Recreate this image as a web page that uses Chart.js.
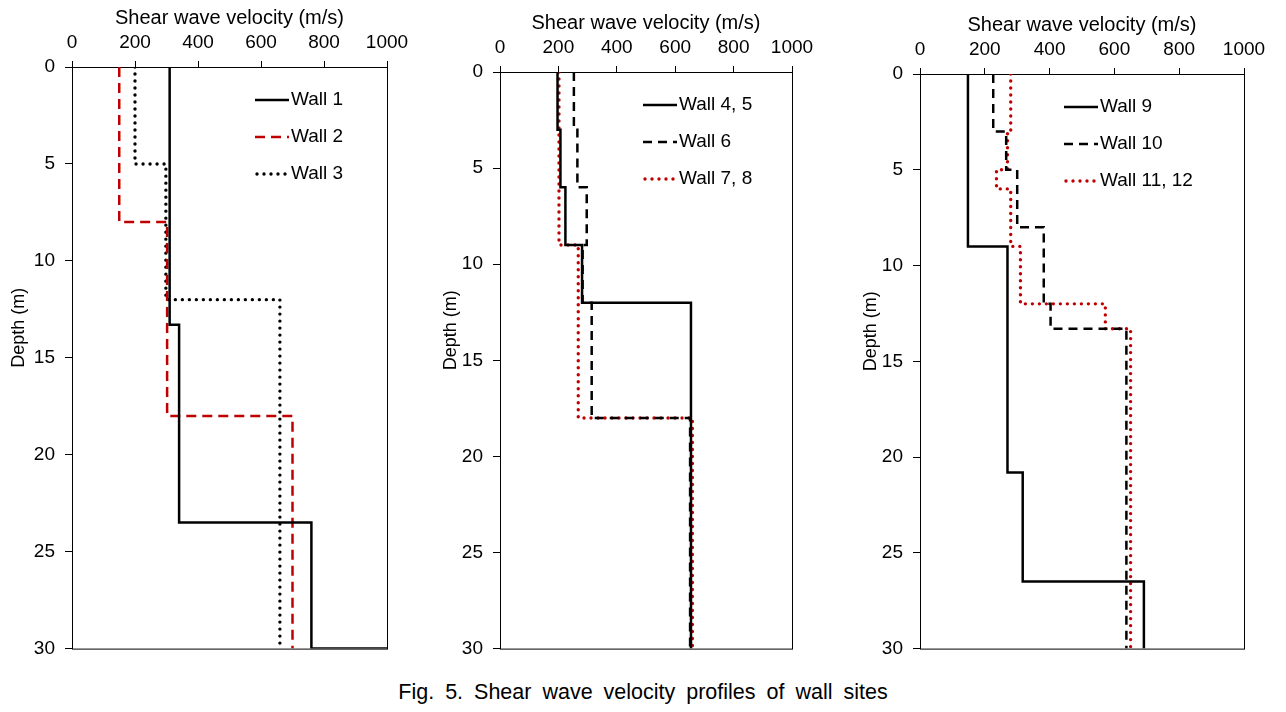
<!DOCTYPE html>
<html>
<head>
<meta charset="utf-8">
<script src="https://cdn.jsdelivr.net/npm/chart.js@4.4.1/dist/chart.umd.min.js"></script>
<style>
  body { margin: 0; background: #fff; }
  #wrap { position: relative; width: 1286px; height: 712px; }
  .panel { position: absolute; top: 0; height: 670px; }
  #caption {
    position: absolute; left: 0; width: 1286px; top: 680px;
    text-align: center; font-family: "Liberation Sans", Arial, sans-serif;
    font-size: 21.5px; word-spacing: 5px; color: #000;
  }
</style>
</head>
<body>
<div id="wrap">
  <div class="panel" style="left:0;width:420px"><canvas id="c1"></canvas></div>
  <div class="panel" style="left:430px;width:415px"><canvas id="c2"></canvas></div>
  <div class="panel" style="left:850px;width:436px"><canvas id="c3"></canvas></div>
  <div id="caption">Fig. 5. Shear wave velocity profiles of wall sites</div>
</div>
<script>
// tick labels
const velocityTicks = [0, 200, 400, 600, 800, 1000];
const depthTicks = [0, 5, 10, 15, 20, 25, 30];

// panel 1 (step profiles: velocity m/s vs depth m)
const wall1Vs = [310, 310, 340, 340, 760, 760, 1000];
const wall1Depth = [0, 13.3, 13.3, 23.5, 23.5, 30, 30];
const wall2Vs = [150, 150, 302, 302, 700, 700];
const wall2Depth = [0, 8, 8, 18, 18, 30];
const wall3Vs = [200, 200, 298, 298, 660, 660];
const wall3Depth = [0, 5, 5, 12, 12, 30];

// panel 2
const wall45Vs = [197, 197, 207, 207, 224, 224, 281, 281, 654, 654];
const wall45Depth = [0, 3, 3, 6, 6, 9, 9, 12, 12, 30];
const wall6Vs = [253, 253, 265, 265, 297, 297, 283, 283, 314, 314, 651, 651];
const wall6Depth = [0, 3, 3, 6, 6, 9, 9, 12, 12, 18, 18, 30];
const wall78Vs = [202, 202, 268, 268, 659, 659];
const wall78Depth = [0, 9, 9, 18, 18, 30];

// panel 3
const wall9Vs = [148, 148, 270, 270, 317, 317, 691, 691];
const wall9Depth = [0, 9, 9, 20.8, 20.8, 26.5, 26.5, 30];
const wall10Vs = [226, 226, 266, 266, 300, 300, 382, 382, 403, 403, 637, 637];
const wall10Depth = [0, 3, 3, 5, 5, 8, 8, 12, 12, 13.3, 13.3, 30];
const wall1112Vs = [280, 280, 270, 270, 236, 236, 280, 280, 310, 310, 572, 572, 650, 650];
const wall1112Depth = [0, 3, 3, 5, 5, 6, 6, 9, 9, 12, 12, 13.3, 13.3, 30];

const RED = "#c00000";
const FONT = '"Liberation Sans", Arial, sans-serif';
Chart.defaults.font.family = FONT;
Chart.defaults.color = "#000";

const solid = { borderColor: "#000", borderWidth: 2.5, borderDash: [] };
const dashBlack = { borderColor: "#000", borderWidth: 2.5, borderDash: [9, 6] };
const dashRed = { borderColor: RED, borderWidth: 2.5, borderDash: [10, 6] };
const dotBlack = { borderColor: "#000", borderWidth: 3.4, borderDash: [0, 7], borderCapStyle: "round" };
const dotRed = { borderColor: RED, borderWidth: 3.4, borderDash: [0, 7], borderCapStyle: "round" };

const series = (label, vs, depth, style) => ({
    label,
    data: vs.map((v, i) => ({ x: v, y: depth[i] })),
    showLine: true,
    pointRadius: 0,
    tension: 0,
    fill: false,
    borderCapStyle: "butt",
    ...style,
});

// box around plot + in-plot legend
const framePlugin = {
    id: "frame",
    beforeDatasetsDraw(chart) {
        const a = chart.chartArea;
        const ctx = chart.ctx;
        ctx.save();
        ctx.strokeStyle = "#000";
        ctx.lineWidth = 1;
        ctx.strokeRect(a.left + 0.5, a.top + 0.5, a.right - a.left, a.bottom - a.top);
        ctx.restore();
    },
    afterDraw(chart, args, opts) {
        const a = chart.chartArea;
        const ctx = chart.ctx;
        ctx.save();
        chart.data.datasets.forEach((ds, i) => {
            const y = a.top + 33 + i * 37;
            const x0 = a.left + opts.x;
            ctx.strokeStyle = ds.borderColor;
            ctx.lineWidth = ds.borderWidth;
            ctx.setLineDash(ds.borderDash || []);
            ctx.lineCap = ds.borderCapStyle || "butt";
            ctx.beginPath();
            ctx.moveTo(x0 + (ds.borderCapStyle === "round" ? 2 : 0), y);
            ctx.lineTo(x0 + 34, y);
            ctx.stroke();
            ctx.setLineDash([]);
            ctx.fillStyle = "#000";
            ctx.font = "19px " + FONT;
            ctx.textBaseline = "middle";
            ctx.fillText(ds.label, x0 + 36, y);
        });
        ctx.restore();
    },
};

const make_chart = (id, datasets, box) => {
    const ctx = document.getElementById(id).getContext("2d");
    return new Chart(ctx, {
        type: "scatter",
        data: { datasets },
        plugins: [framePlugin],
        options: {
            responsive: true,
            maintainAspectRatio: false,
            animation: false,
            layout: { padding: { left: 0, top: 0, right: box.padRight, bottom: box.padBottom } },
            plugins: {
                legend: { display: false },
                tooltip: { enabled: false },
                frame: { x: box.legendX },
            },
            scales: {
                x: {
                    type: "linear",
                    position: "top",
                    min: velocityTicks[0],
                    max: velocityTicks[velocityTicks.length - 1],
                    afterFit: (s) => { s.height = box.top; },
                    ticks: {
                        stepSize: 100,
                        font: { size: 19 },
                        padding: 7,
                        maxRotation: 0,
                        callback: (v) => (velocityTicks.includes(v) ? String(v) : ""),
                    },
                    grid: { drawOnChartArea: false, tickLength: 6, color: "#000", tickWidth: 1 },
                    border: { color: "#000", width: 1 },
                    title: {
                        display: true,
                        text: "Shear wave velocity (m/s)",
                        font: { size: 20 },
                        padding: { top: box.top - 49 - 12, bottom: 0 },
                    },
                },
                y: {
                    type: "linear",
                    reverse: true,
                    min: depthTicks[0],
                    max: depthTicks[depthTicks.length - 1],
                    afterFit: (s) => { s.width = box.left; },
                    afterBuildTicks: (s) => { s.ticks = depthTicks.map((v) => ({ value: v })); },
                    ticks: { font: { size: 19 }, padding: 10 },
                    grid: { drawOnChartArea: false, tickLength: 7, color: "#000", tickWidth: 1 },
                    border: { color: "#000", width: 1 },
                    title: {
                        display: true,
                        text: "            Depth (m)",
                        font: { size: 18 },
                        padding: { top: box.titleLeft, bottom: 0 },
                    },
                },
            },
        },
    });
};

make_chart("c1", [
    series("Wall 1", wall1Vs, wall1Depth, solid),
    series("Wall 2", wall2Vs, wall2Depth, dashRed),
    series("Wall 3", wall3Vs, wall3Depth, dotBlack),
], { left: 72, top: 67, padRight: 33, padBottom: 20, legendX: 183, titleLeft: 8 });

make_chart("c2", [
    series("Wall 4, 5", wall45Vs, wall45Depth, solid),
    series("Wall 6", wall6Vs, wall6Depth, dashBlack),
    series("Wall 7, 8", wall78Vs, wall78Depth, dotRed),
], { left: 70, top: 72, padRight: 53, padBottom: 21, legendX: 143, titleLeft: 10 });

make_chart("c3", [
    series("Wall 9", wall9Vs, wall9Depth, solid),
    series("Wall 10", wall10Vs, wall10Depth, dashBlack),
    series("Wall 11, 12", wall1112Vs, wall1112Depth, dotRed),
], { left: 70, top: 74, padRight: 42, padBottom: 21, legendX: 144, titleLeft: 10 });
</script>
</body>
</html>
